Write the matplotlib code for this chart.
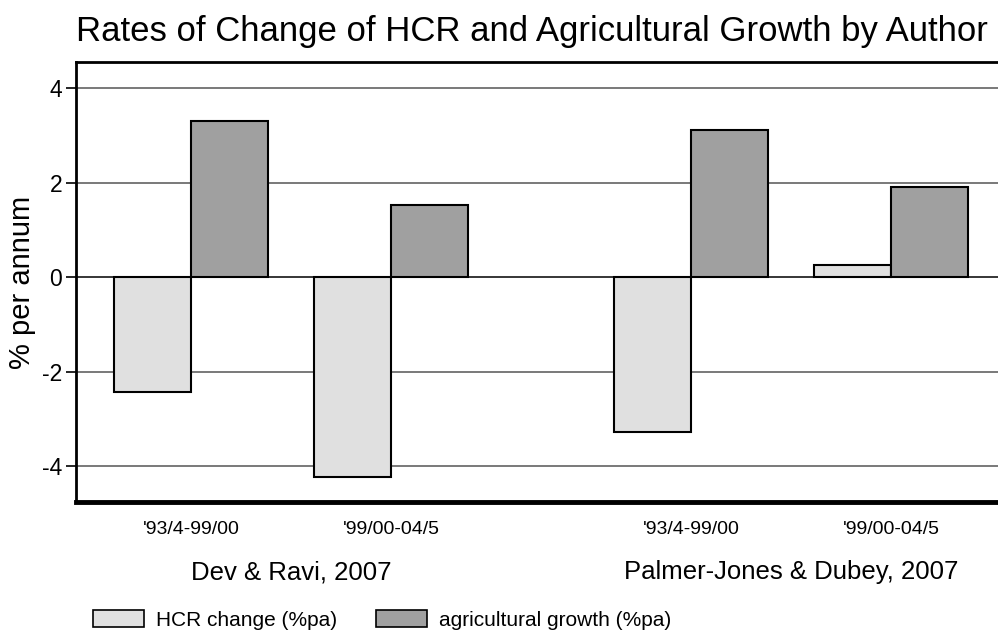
import matplotlib
matplotlib.use("Agg")
import matplotlib.pyplot as plt
import matplotlib.transforms as mtransforms
from matplotlib.font_manager import fontManager
from matplotlib.patches import Patch
import numpy as np

# Data
periods = ["'93/4-99/00", "'99/00-04/5", "'93/4-99/00", "'99/00-04/5"]
authors = ["Dev & Ravi, 2007", "Palmer-Jones & Dubey, 2007"]
hcr_change = [-2.43, -4.22, -3.27, 0.27]
agri_growth = [3.31, 1.54, 3.12, 1.92]
yticks = [-4, -2, 0, 2, 4]

names = {f.name for f in fontManager.ttflist}
narrow = "Liberation Sans Narrow" if "Liberation Sans Narrow" in names else "Liberation Sans"
plt.rcParams["font.family"] = ["Liberation Sans", "DejaVu Sans"]

# category positions: two per author, with a gap between authors
pos = np.array([0.0, 1.0, 2.5, 3.5])
bw = 0.385

fig = plt.figure(figsize=(9.98, 6.37), dpi=100)
ax = fig.add_axes([76 / 998, (637 - 502) / 637, 1 - 76 / 998, (502 - 62) / 637])

ax.bar(pos - bw / 2, hcr_change, bw, color="#e0e0e0", edgecolor="black", linewidth=1.5, zorder=3)
ax.bar(pos + bw / 2, agri_growth, bw, color="#a0a0a0", edgecolor="black", linewidth=1.5, zorder=3)

ax.set_xlim(-0.575, 4.035)
ax.set_ylim(-4.76, 4.56)
ax.set_yticks(yticks)
ax.set_yticklabels([str(v) for v in yticks], fontsize=16.5)
for v in yticks:
    ax.axhline(v, color="black" if v == 0 else "#555555", lw=1.1, zorder=1)

ax.set_xticks(pos)
ax.set_xticklabels(periods, fontsize=14, family=[narrow, "DejaVu Sans"])
ax.tick_params(axis="x", length=0, pad=14)
ax.tick_params(axis="y", length=7, width=1.2, direction="out", pad=3)

ax.spines["right"].set_visible(False)
ax.spines["left"].set_linewidth(2)
ax.spines["top"].set_linewidth(2)
ax.spines["bottom"].set_linewidth(3.5)

ax.set_ylabel("% per annum", fontsize=21, labelpad=4)

trans = mtransforms.blended_transform_factory(ax.transData, ax.transAxes)
for x, name in zip([pos[:2].mean(), pos[2:].mean()], authors):
    ax.text(x, -0.16, name, transform=trans, ha="center", va="center", fontsize=18.5)

fig.text(0.533, 1 - 32 / 637, "Rates of Change of HCR and Agricultural Growth by Author",
         ha="center", va="center", fontsize=25)

handles = [Patch(facecolor="#e0e0e0", edgecolor="black", linewidth=1.2),
           Patch(facecolor="#a0a0a0", edgecolor="black", linewidth=1.2)]
fig.legend(handles, ["HCR change (%pa)", "agricultural growth (%pa)"], ncol=2,
           loc="center left", bbox_to_anchor=(93 / 998, 1 - 620 / 637), frameon=False,
           fontsize=15, handlelength=2.45, handleheight=0.85, handletextpad=0.55,
           columnspacing=1.9, borderpad=0, borderaxespad=0)

fig.savefig("out.png", dpi=100)
